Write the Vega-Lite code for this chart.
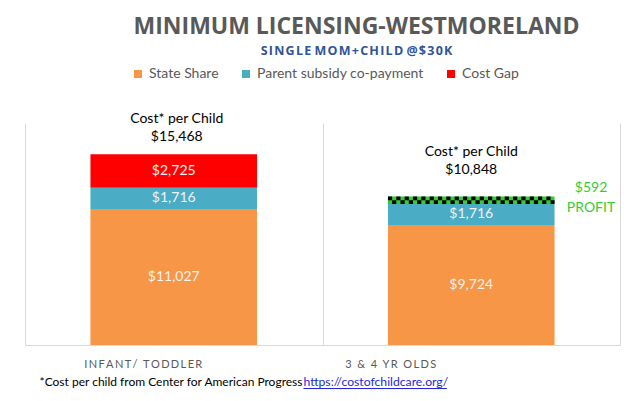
{
  "$schema": "https://vega.github.io/schema/vega-lite/v6.json",
  "autosize": "none",
  "width": 595,
  "height": 222,
  "padding": {"left": 25, "top": 123, "right": 13, "bottom": 56},
  "background": "white",
  "config": {"view": {"stroke": null}, "font": "Lato"},
  "title": {
    "text": "MINIMUM  LICENSING-WESTMORELAND",
    "subtitle": "S\u200aI\u200aN\u200aG\u200aL\u200aE M\u200aO\u200aM\u200a+\u200aC\u200aH\u200aI\u200aL\u200aD @\u200a$\u200a3\u200a0\u200aK",
    "anchor": "middle",
    "font": "Open Sans",
    "fontSize": 23,
    "fontWeight": "bold",
    "color": "#595959",
    "subtitleFont": "Open Sans",
    "subtitleFontSize": 12.5,
    "subtitleFontWeight": "bold",
    "subtitleColor": "#2F5597",
    "subtitlePadding": 6,
    "dx": 34,
    "offset": 10
  },
  "datasets": {
    "bars": [
      {"cat": "INFANT/ TODDLER", "seg": "State Share", "value": 11027, "ord": 1},
      {"cat": "INFANT/ TODDLER", "seg": "Parent subsidy co-payment", "value": 1716, "ord": 2},
      {"cat": "INFANT/ TODDLER", "seg": "Cost Gap", "value": 2725, "ord": 3},
      {"cat": "3 & 4 YR OLDS", "seg": "State Share", "value": 9724, "ord": 1},
      {"cat": "3 & 4 YR OLDS", "seg": "Parent subsidy co-payment", "value": 1716, "ord": 2},
      {"cat": "3 & 4 YR OLDS", "seg": "Profit", "value": 592, "ord": 3}
    ],
    "ann": [
      {"cat": "INFANT/ TODDLER", "cost": 15468, "barTop": 15468},
      {"cat": "3 & 4 YR OLDS", "cost": 10848, "barTop": 12032, "profit": 592}
    ],
    "notes": [
      {"note": "*Cost per child from Center for American Progress", "link": "https://costofchildcare.org/"}
    ]
  },
  "layer": [
    {
      "data": {"name": "bars"},
      "mark": {"type": "bar", "width": {"band": 0.56}},
      "encoding": {
        "x": {
          "field": "cat",
          "type": "nominal",
          "scale": {"domain": ["INFANT/ TODDLER", "3 & 4 YR OLDS"], "paddingInner": 0, "paddingOuter": 0},
          "axis": {
            "title": null,
            "tickBand": "extent",
            "ticks": false,
            "grid": true,
            "gridColor": "#D9D9D9",
            "domainColor": "#D9D9D9",
            "labelColor": "#595959",
            "labelFont": "Lato",
            "labelFontSize": 11,
            "labelAngle": 0,
            "labelOverlap": false,
            "labelPadding": 13,
            "labelExpr": "join(split(datum.label, ''), '\u2009')",
            "labelOffset": {"condition": {"test": "datum.value === '3 & 4 YR OLDS'", "value": -81}, "value": -31}
          }
        },
        "y": {
          "field": "value",
          "type": "quantitative",
          "stack": "zero",
          "scale": {"domain": [0, 18000], "nice": false},
          "axis": null
        },
        "color": {
          "field": "seg",
          "type": "nominal",
          "scale": {
            "domain": ["State Share", "Parent subsidy co-payment", "Cost Gap", "Profit"],
            "range": ["#F79646", "#4BACC6", "#FF0000", "#33CC33"]
          },
          "legend": {
            "values": ["State Share", "Parent subsidy co-payment", "Cost Gap"],
            "orient": "none",
            "legendX": 106,
            "legendY": -56,
            "direction": "horizontal",
            "title": null,
            "symbolType": "square",
            "symbolSize": 64,
            "symbolStrokeWidth": 0,
            "labelFont": "Lato",
            "labelFontSize": 14,
            "labelLimit": 400,
            "labelColor": "#595959",
            "columnPadding": 20
          }
        },
        "order": {"field": "ord"}
      }
    },
    {
      "data": {"name": "bars"},
      "transform": [
        {"stack": "value", "groupby": ["cat"], "sort": [{"field": "ord"}], "as": ["v0", "v1"]},
        {"filter": "datum.seg !== 'Profit'"},
        {"calculate": "(datum.v0 + datum.v1) / 2", "as": "mid"},
        {"calculate": "'$' + format(datum.value, ',')", "as": "lbl"}
      ],
      "mark": {"type": "text", "color": "#F2F2F2", "fontSize": 14, "font": "Lato"},
      "encoding": {
        "x": {"field": "cat", "type": "nominal"},
        "y": {"field": "mid", "type": "quantitative"},
        "text": {"field": "lbl"}
      }
    },
    {
      "data": {"name": "ann"},
      "transform": [{"filter": "datum.profit > 0"}],
      "mark": {"type": "rule", "color": "#000000", "strokeWidth": 3.7, "strokeDash": [4.17, 4.17], "strokeCap": "butt"},
      "encoding": {
        "x": {"datum": "3 & 4 YR OLDS", "type": "nominal", "bandPosition": 0.22},
        "x2": {"datum": "3 & 4 YR OLDS", "bandPosition": 0.78},
        "y": {"datum": 11884, "type": "quantitative"}
      }
    },
    {
      "data": {"name": "ann"},
      "transform": [{"filter": "datum.profit > 0"}],
      "mark": {"type": "rule", "color": "#000000", "strokeWidth": 3.7, "strokeDash": [4.17, 4.17], "strokeDashOffset": 4.17, "strokeCap": "butt"},
      "encoding": {
        "x": {"datum": "3 & 4 YR OLDS", "type": "nominal", "bandPosition": 0.22},
        "x2": {"datum": "3 & 4 YR OLDS", "bandPosition": 0.78},
        "y": {"datum": 11588, "type": "quantitative"}
      }
    },
    {
      "data": {"name": "ann"},
      "transform": [
        {"filter": "datum.cat === 'INFANT/ TODDLER'"},
        {"calculate": "['Cost* per Child', '$' + format(datum.cost, ',')]", "as": "lbl"}
      ],
      "mark": {"type": "text", "baseline": "bottom", "dy": -28, "dx": 3, "fontSize": 14, "lineHeight": 18, "color": "#000000", "font": "Lato"},
      "encoding": {
        "x": {"field": "cat", "type": "nominal"},
        "y": {"field": "barTop", "type": "quantitative"},
        "text": {"field": "lbl"}
      }
    },
    {
      "data": {"name": "ann"},
      "transform": [
        {"filter": "datum.cat === '3 & 4 YR OLDS'"},
        {"calculate": "['Cost* per Child', '$' + format(datum.cost, ',')]", "as": "lbl"}
      ],
      "mark": {"type": "text", "baseline": "bottom", "dy": -38, "dx": 0, "fontSize": 14, "lineHeight": 18, "color": "#000000", "font": "Lato"},
      "encoding": {
        "x": {"field": "cat", "type": "nominal"},
        "y": {"field": "barTop", "type": "quantitative"},
        "text": {"field": "lbl"}
      }
    },
    {
      "data": {"name": "ann"},
      "transform": [
        {"filter": "datum.profit > 0"},
        {"calculate": "['$' + format(datum.profit, ','), 'PROFIT']", "as": "lbl"}
      ],
      "mark": {"type": "text", "align": "center", "baseline": "middle", "dx": -29, "dy": -12, "fontSize": 14, "lineHeight": 20, "color": "#33CC33", "font": "Lato"},
      "encoding": {
        "x": {"field": "cat", "type": "nominal", "bandPosition": 1},
        "y": {"datum": 11736, "type": "quantitative"},
        "text": {"field": "lbl"}
      }
    },
    {
      "data": {"name": "notes"},
      "mark": {"type": "text", "align": "right", "baseline": "middle", "dx": -20, "fontSize": 12, "color": "#000000", "font": "Lato"},
      "encoding": {
        "x": {"datum": "3 & 4 YR OLDS", "type": "nominal", "bandPosition": 0},
        "y": {"datum": -3000, "type": "quantitative"},
        "text": {"field": "note"}
      }
    },
    {
      "data": {"name": "notes"},
      "mark": {"type": "text", "align": "left", "baseline": "middle", "dx": -19, "fontSize": 12.2, "color": "#1F1FE0", "font": "Lato"},
      "encoding": {
        "x": {"datum": "3 & 4 YR OLDS", "type": "nominal", "bandPosition": 0},
        "y": {"datum": -3000, "type": "quantitative"},
        "text": {"field": "link"}
      }
    },
    {
      "data": {"name": "notes"},
      "mark": {"type": "rule", "color": "#1F1FE0", "strokeWidth": 1},
      "encoding": {
        "x": {"datum": "3 & 4 YR OLDS", "type": "nominal", "bandPosition": -0.064},
        "x2": {"datum": "3 & 4 YR OLDS", "bandPosition": 0.418},
        "y": {"datum": -3530, "type": "quantitative"}
      }
    }
  ]
}
